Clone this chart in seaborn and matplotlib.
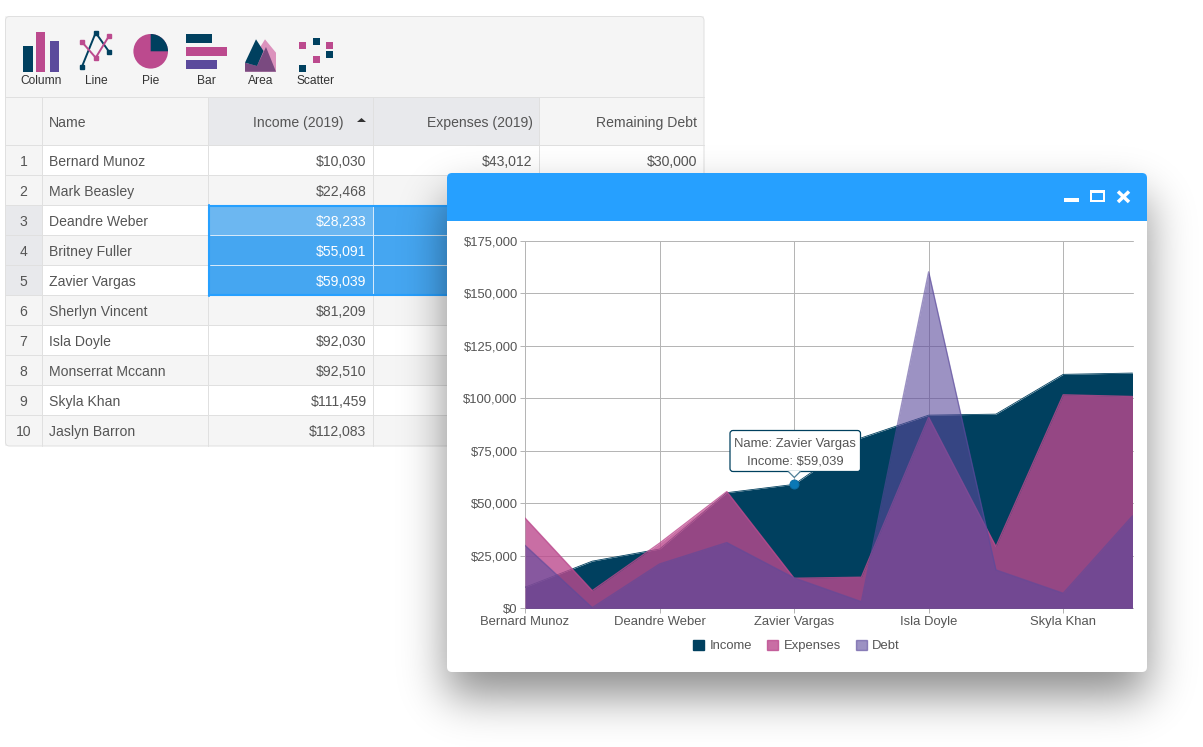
import math
import numpy as np
import matplotlib
matplotlib.use('Agg')
import matplotlib.pyplot as plt
import seaborn as sns
from matplotlib.patches import Rectangle, Polygon, Circle, Wedge, FancyBboxPatch, Patch
from matplotlib.ticker import FuncFormatter

# data
names = ['Bernard Munoz', 'Mark Beasley', 'Deandre Weber', 'Britney Fuller', 'Zavier Vargas',
         'Sherlyn Vincent', 'Isla Doyle', 'Monserrat Mccann', 'Skyla Khan', 'Jaslyn Barron']
income = [10030, 22468, 28233, 55091, 59039, 81209, 92030, 92510, 111459, 112083]
expenses = [43012, 8400, 31000, 55600, 14300, 14800, 91000, 29400, 101700, 100900]
debt = [30000, 300, 21100, 31300, 14500, 3150, 160300, 18300, 7150, 44000]
series_names = ['Income', 'Expenses', 'Debt']
y_ticks = [0, 25000, 50000, 75000, 100000, 125000, 150000, 175000]
headers = ['Name', 'Income (2019)', 'Expenses (2019)', 'Remaining Debt']
toolbar_labels = ['Column', 'Line', 'Pie', 'Bar', 'Area', 'Scatter']

NAVY = '#00405f'
PINK = '#bc4a8e'
PURPLE = '#5b4a9c'
TEXT = '#555555'
LINE = '#e0e0e0'
GREY = '#f5f5f5'
SEL = '#e8e9ec'
BLUE = '#26a0ff'

sns.set_theme(style='whitegrid')
plt.rcParams['font.family'] = ['Liberation Sans', 'DejaVu Sans']

W, H = 1203, 747
fig = plt.figure(figsize=(W / 100, H / 100), dpi=100, facecolor='white')


def px(size):
    return size * 0.72


def full_axes(z):
    a = fig.add_axes([0, 0, 1, 1], zorder=z)
    a.set_xlim(0, W)
    a.set_ylim(H, 0)
    a.axis('off')
    a.patch.set_alpha(0)
    return a


bg = full_axes(0)


def rect(a, x0, y0, x1, y1, color, z=1, **kw):
    a.add_patch(Rectangle((x0, y0), x1 - x0, y1 - y0, facecolor=color, edgecolor='none', zorder=z, **kw))


# table
col_x = [5, 42, 208, 373, 539, 704]
row_top = 146
row_h = 30
table_bottom = row_top + row_h * len(names)
rect(bg, 5, 16, 704, 97, GREY)
rect(bg, 5, 97, 208, 146, GREY)
rect(bg, 208, 97, 539, 146, SEL)
rect(bg, 539, 97, 704, 146, GREY)

for i, name in enumerate(names):
    y0 = row_top + i * row_h
    cell = 'white' if i % 2 == 0 else GREY
    selected = 2 <= i <= 4
    rect(bg, 5, y0, 42, y0 + row_h, SEL if selected else GREY)
    rect(bg, 42, y0, 704, y0 + row_h, cell)
    cy = y0 + row_h / 2 + 0.8
    bg.text(23.5, cy, str(i + 1), ha='center', va='center', color=TEXT, fontsize=px(14), zorder=5)
    bg.text(49, cy, name, ha='left', va='center', color=TEXT, fontsize=px(14), zorder=5)
    bg.text(366.5, cy, f'${income[i]:,}', ha='right', va='center', fontsize=px(14), zorder=5,
            color='white' if selected else TEXT)

# the other columns only show in the first row, the window covers the rest
bg.text(532.5, 161.8, f'${expenses[0]:,}', ha='right', va='center', color=TEXT, fontsize=px(14), zorder=5)
bg.text(697.5, 161.8, f'${debt[0]:,}', ha='right', va='center', color=TEXT, fontsize=px(14), zorder=5)

for x in col_x[1:-1]:
    bg.plot([x, x], [97, table_bottom], color=LINE, lw=0.72, zorder=2)
for y in [97, 145] + [row_top + i * row_h - 1 for i in range(1, len(names))]:
    bg.plot([5, 704], [y, y], color=LINE, lw=0.72, zorder=2)
bg.add_patch(FancyBboxPatch((5.5, 16.5), 698.5, table_bottom - 16.5, boxstyle='round,pad=0,rounding_size=4',
                            facecolor='none', edgecolor=LINE, lw=0.72, zorder=3))

bg.text(49, 122.8, headers[0], ha='left', va='center', color=TEXT, fontsize=px(14), zorder=5)
bg.text(343.5, 122.8, headers[1], ha='right', va='center', color=TEXT, fontsize=px(14), zorder=5)
bg.text(532.5, 122.8, headers[2], ha='right', va='center', color=TEXT, fontsize=px(14), zorder=5)
bg.text(697.5, 122.8, headers[3], ha='right', va='center', color=TEXT, fontsize=px(14), zorder=5)
bg.add_patch(Polygon([(357, 122), (366, 122), (361.5, 118)], facecolor='#333333', edgecolor='none', zorder=5))

# selection
rect(bg, 208, 205, 560, 295, '#45a6f1', z=3)
rect(bg, 210, 207, 373, 235, '#6cb7f1', z=3)
rect(bg, 373, 207, 560, 235, '#45a6f1', z=3)
for y in [235, 265]:
    bg.plot([210, 560], [y, y], color='#d5e9fa', lw=0.72, zorder=4)
bg.plot([373, 373], [206, 294], color='#d5e9fa', lw=0.72, zorder=4)
bg.plot([208.5, 560], [205.5, 205.5], color=BLUE, lw=1.5, zorder=4)
bg.plot([208.5, 560], [295, 295], color=BLUE, lw=1.5, zorder=4)
bg.plot([209, 209], [205, 296], color=BLUE, lw=1.5, zorder=4)

# toolbar icons
for lab, cx in zip(toolbar_labels, [41, 96, 151, 206, 261, 316]):
    bg.text(cx, 80.5, lab, ha='center', va='center', color='#333333', fontsize=px(12), zorder=5)

rect(bg, 22.5, 46, 32.5, 72, NAVY, z=4)
rect(bg, 36, 32, 45, 72, PINK, z=4)
rect(bg, 49.5, 41, 59, 72, PURPLE, z=4)

lx = [81.7, 95.7, 109]
for ly, c in [([67.3, 32.7, 51.7], NAVY), ([41.7, 57.7, 36], PINK)]:
    bg.plot(lx, ly, color=c, lw=1.4, marker='s', ms=3.2, zorder=4)

bg.add_patch(Circle((150.7, 51.3), 17.3, facecolor=PINK, edgecolor='none', zorder=4))
bg.add_patch(Wedge((150.7, 51.3), 17.3, 270, 360, facecolor=NAVY, edgecolor='none', zorder=4))

rect(bg, 186, 33.7, 212, 42.7, NAVY, z=4)
rect(bg, 186, 47, 226.7, 56, PINK, z=4)
rect(bg, 186, 60.3, 217, 69.3, PURPLE, z=4)

bg.add_patch(Polygon([(265, 39.3), (276, 52.7), (276, 71.7), (245, 71.7)], facecolor='#dc92bd', edgecolor='none', zorder=4))
bg.add_patch(Polygon([(245, 71.7), (245, 62.7), (257, 66), (266, 47), (276, 71.7)], facecolor='#7a4a80', edgecolor='none', zorder=4))
bg.add_patch(Polygon([(245, 62.7), (256, 39.3), (263.5, 51), (257, 66)], facecolor=NAVY, edgecolor='none', zorder=4))

for sx, sy, c in [(302.7, 45.3, PINK), (316, 41, NAVY), (329.3, 45.3, PINK),
                  (329.3, 54.3, NAVY), (316, 59.3, PINK), (302.7, 68.7, NAVY)]:
    rect(bg, sx - 3.5, sy - 3.5, sx + 3.5, sy + 3.5, c, z=4)

# window shadow
wx0, wy0, wx1, wy1 = 447, 173, 1147, 672
erf = np.vectorize(math.erf)
sigma = 22
xs = np.arange(W) + 0.5
ys = np.arange(H) + 0.5


def edge(v, a, b):
    s = sigma * math.sqrt(2)
    return 0.5 * (erf((v - a) / s) - erf((v - b) / s))


shadow = 0.45 * np.outer(edge(ys, wy0 + 24, wy1 + 24), edge(xs, wx0, wx1))
rgba = np.zeros((H, W, 4))
rgba[..., 3] = shadow
bg.imshow(rgba, extent=(0, W, H, 0), aspect='auto', zorder=10, interpolation='bilinear')
bg.set_xlim(0, W)
bg.set_ylim(H, 0)

# window
bg.add_patch(FancyBboxPatch((wx0, wy0), wx1 - wx0, wy1 - wy0, boxstyle='round,pad=0,rounding_size=5',
                            facecolor='white', edgecolor='none', zorder=11))
bg.add_patch(FancyBboxPatch((wx0, wy0), wx1 - wx0, 30, boxstyle='round,pad=0,rounding_size=5',
                            facecolor=BLUE, edgecolor='none', zorder=12))
rect(bg, wx0, wy0 + 10, wx1, 221, BLUE, z=12)
rect(bg, 1064, 197.7, 1078.5, 201.7, 'white', z=13)
rect(bg, 1090, 190, 1105, 201.7, 'white', z=13)
rect(bg, 1092, 193, 1103, 199.7, BLUE, z=14)
bg.plot([1118, 1129], [191.5, 202], color='white', lw=2.5, zorder=13, solid_capstyle='butt')
bg.plot([1118, 1129], [202, 191.5], color='white', lw=2.5, zorder=13, solid_capstyle='butt')

# chart
left, right, top, bottom = 525, 1132.5, 241, 608.3
ax = fig.add_axes([left / W, 1 - bottom / H, (right - left) / W, (bottom - top) / H], zorder=1)
ax.patch.set_alpha(0)
pos = np.arange(len(names), dtype=float)
pos[-1] = 9.03  # the last category sits a touch wider in the original
series = [(income, NAVY, 1.0, 0.6), (expenses, PINK, 0.8, 1.0), (debt, PURPLE, 0.6, 1.0)]
for k, (vals, c, al, lw) in enumerate(series):
    ax.fill_between(pos, 0, vals, color=c, alpha=al, lw=0, zorder=2 + k * 2)
    sns.lineplot(x=pos, y=vals, color=c, alpha=al, lw=lw, ax=ax, errorbar=None, zorder=3 + k * 2)

ax.set_xlim(0, 9.03)
ax.set_ylim(0, 175000)
ax.set_xticks(pos[::2])
ax.set_xticklabels(names[::2])
ax.set_yticks(y_ticks)
ax.yaxis.set_major_formatter(FuncFormatter(lambda v, p: f'${v:,.0f}'))
ax.grid(True, color='#b5b5b5', lw=0.72, zorder=1)
ax.set_axisbelow(True)
for gl in ax.get_xgridlines() + ax.get_ygridlines():
    gl.set_clip_on(False)
ax.tick_params(axis='both', length=3.6, width=0.72, color='#b5b5b5', labelcolor=TEXT, labelsize=px(13))
ax.tick_params(axis='x', pad=2.2)
ax.tick_params(axis='y', pad=1.6)
ax.tick_params(left=True, bottom=True)
for s in ['top', 'right', 'bottom']:
    ax.spines[s].set_visible(False)
ax.spines['left'].set_color('#b5b5b5')
ax.spines['left'].set_linewidth(0.72)

handles = [Patch(facecolor=NAVY, edgecolor=NAVY, label=series_names[0]),
           Patch(facecolor=PINK, alpha=0.8, edgecolor=PINK, label=series_names[1]),
           Patch(facecolor=PURPLE, alpha=0.6, edgecolor=PURPLE, label=series_names[2])]
leg = ax.legend(handles=handles, ncol=3, frameon=False, loc='center',
                bbox_to_anchor=(796.5 / W, 1 - 646 / H), bbox_transform=fig.transFigure,
                handlelength=0.85, handleheight=0.85, handletextpad=0.42, columnspacing=1.15,
                fontsize=px(13), borderpad=0, borderaxespad=0)
for t in leg.get_texts():
    t.set_color(TEXT)

# tooltip on the hovered point
top_ax = full_axes(2)
hover = names.index('Zavier Vargas')
ax.plot(pos[hover], income[hover], 'o', ms=6.5, mfc='#0a78b5', mec='#0a6ea6', mew=0.7, zorder=9, clip_on=False)
top_ax.add_patch(FancyBboxPatch((730, 430.5), 130.5, 41, boxstyle='round,pad=0,rounding_size=3',
                                facecolor='white', edgecolor=NAVY, lw=0.9, zorder=2))
top_ax.add_patch(Polygon([(788.3, 471), (794.3, 477.5), (800.3, 471)], facecolor='white', edgecolor='none', zorder=3))
top_ax.plot([788.3, 794.3, 800.3], [471.5, 477.5, 471.5], color='#4f8098', lw=0.9, zorder=3)
top_ax.text(795, 443.5, f'Name: {names[hover]}', ha='center', va='center', color=TEXT, fontsize=px(13), zorder=4)
top_ax.text(795, 461.5, f'Income: ${income[hover]:,}', ha='center', va='center', color=TEXT, fontsize=px(13), zorder=4)

plt.savefig('out.png', dpi=100)
